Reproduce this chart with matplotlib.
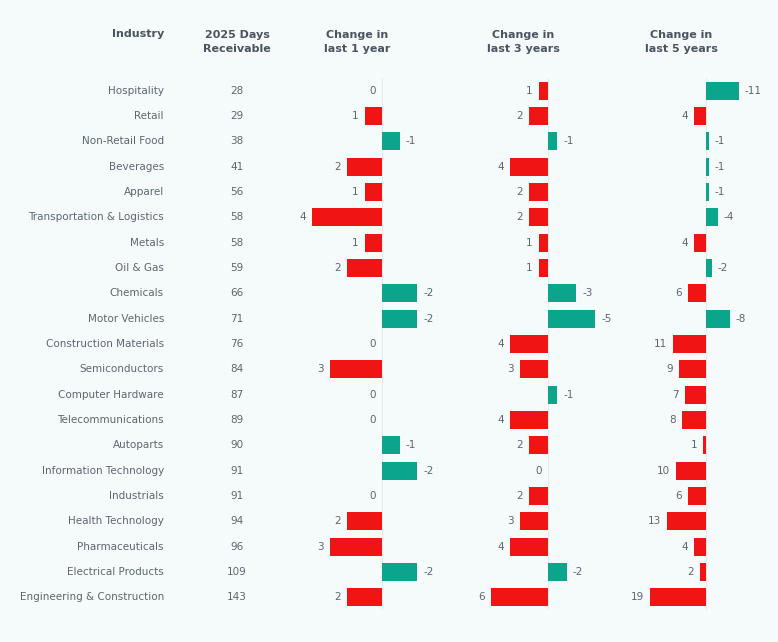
import matplotlib.pyplot as plt

industries = ['Hospitality', 'Retail', 'Non-Retail Food', 'Beverages', 'Apparel',
              'Transportation & Logistics', 'Metals', 'Oil & Gas', 'Chemicals',
              'Motor Vehicles', 'Construction Materials', 'Semiconductors',
              'Computer Hardware', 'Telecommunications', 'Autoparts',
              'Information Technology', 'Industrials', 'Health Technology',
              'Pharmaceuticals', 'Electrical Products', 'Engineering & Construction']
days = [28, 29, 38, 41, 56, 58, 58, 59, 66, 71, 76, 84, 87, 89, 90, 91, 91, 94, 96, 109, 143]
chg_1y = [0, 1, -1, 2, 1, 4, 1, 2, -2, -2, 0, 3, 0, 0, -1, -2, 0, 2, 3, -2, 2]
chg_3y = [1, 2, -1, 4, 2, 2, 1, 1, -3, -5, 4, 3, -1, 4, 2, 0, 2, 3, 4, -2, 6]
chg_5y = [-11, 4, -1, -1, -1, -4, 4, -2, 6, -8, 11, 9, 7, 8, 1, 10, 6, 13, 4, 2, 19]

W, H = 778, 642
bg = '#f5fafb'
txt = '#5b6770'
head = '#4a5560'
red = '#f11414'
green = '#0aa58a'

fig = plt.figure(figsize=(W / 100, H / 100), dpi=100, facecolor=bg)
top, bot = 78, 610
n = len(industries)

def fax(x0, x1):
    ax = fig.add_axes([x0 / W, 1 - bot / H, (x1 - x0) / W, (bot - top) / H])
    ax.set_facecolor('none')
    ax.set_ylim(n - 0.5, -0.5)
    ax.axis('off')
    return ax

# table text
ta = fax(0, W)
ta.set_xlim(0, W)
for i, (name, d) in enumerate(zip(industries, days)):
    ta.text(164, i, name, ha='right', va='center', fontsize=7.5, color=txt)
    ta.text(237, i, str(d), ha='center', va='center', fontsize=7.5, color=txt)

# bar columns: (values, zero px, px per unit, header)
cols = [(chg_1y, 382, 17.5, 'Change in\nlast 1 year'),
        (chg_3y, 548, 9.45, 'Change in\nlast 3 years'),
        (chg_5y, 706, 2.97, 'Change in\nlast 5 years')]
for vals, z, s, title in cols:
    ax = fax(z - 90, z + 60)
    ax.set_xlim(-90 / s, 60 / s)
    xs = [-v for v in vals]
    colors = [red if v > 0 else green for v in vals]
    ax.barh(range(n), xs, height=0.72, color=colors)
    ax.axvline(0, color='#e4e8ea', lw=0.6, zorder=0)
    pad = 6 / s
    for i, v in enumerate(vals):
        if v >= 0:
            ax.text(-v - pad, i, str(v), ha='right', va='center', fontsize=7.5, color=txt)
        else:
            ax.text(-v + pad, i, str(v), ha='left', va='center', fontsize=7.5, color=txt)
    fig.text((z - 25) / W, 1 - 42 / H, title, ha='center', va='center',
             fontsize=8, fontweight='bold', color=head, linespacing=1.5)

fig.text(164 / W, 1 - 34 / H, 'Industry', ha='right', va='center',
         fontsize=8, fontweight='bold', color=head)
fig.text(237 / W, 1 - 42 / H, '2025 Days\nReceivable', ha='center', va='center',
         fontsize=8, fontweight='bold', color=head, linespacing=1.5)

fig.savefig('out.png', dpi=100, facecolor=bg)
